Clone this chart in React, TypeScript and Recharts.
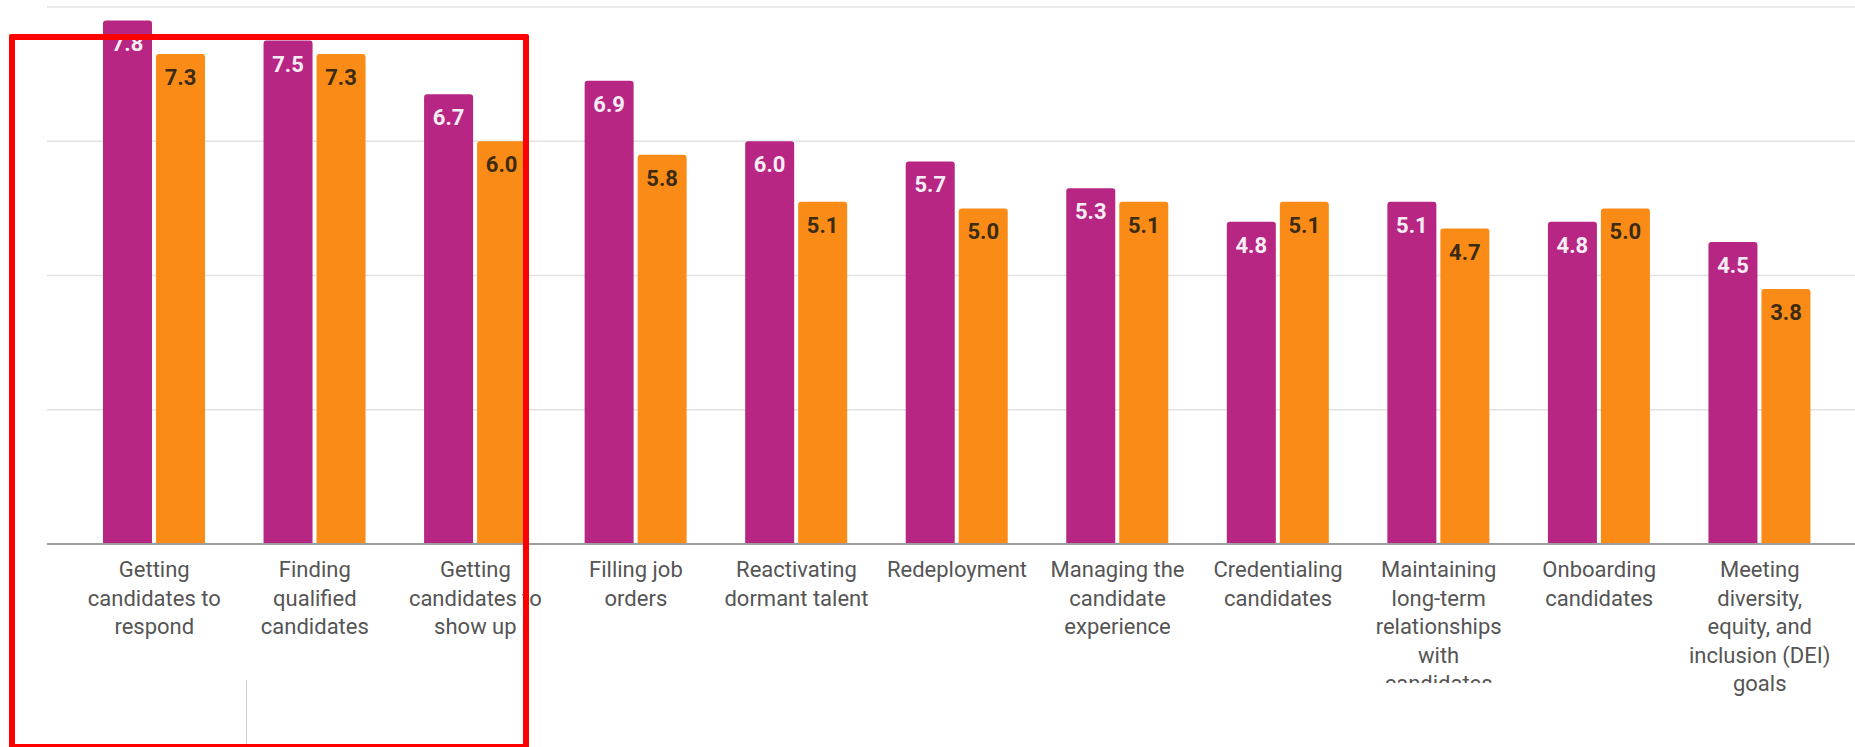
import React from 'react'
import { BarChart, Bar, XAxis, YAxis, CartesianGrid, LabelList } from 'recharts'

const categories = [
	'Getting candidates to respond',
	'Finding qualified candidates',
	'Getting candidates to show up',
	'Filling job orders',
	'Reactivating dormant talent',
	'Redeployment',
	'Managing the candidate experience',
	'Credentialing candidates',
	'Maintaining long-term relationships with candidates',
	'Onboarding candidates',
	'Meeting diversity, equity, and inclusion (DEI) goals',
]

// wrapped tick label lines, as they break in the picture
const tickLines = [
	['Getting', 'candidates to', 'respond'],
	['Finding', 'qualified', 'candidates'],
	['Getting', 'candidates to', 'show up'],
	['Filling job', 'orders'],
	['Reactivating', 'dormant talent'],
	['Redeployment'],
	['Managing the', 'candidate', 'experience'],
	['Credentialing', 'candidates'],
	['Maintaining', 'long-term', 'relationships', 'with', 'candidates'],
	['Onboarding', 'candidates'],
	['Meeting', 'diversity,', 'equity, and', 'inclusion (DEI)', 'goals'],
]

const purpleValues = [7.8, 7.5, 6.7, 6.9, 6.0, 5.7, 5.3, 4.8, 5.1, 4.8, 4.5]
const orangeValues = [7.3, 7.3, 6.0, 5.8, 5.1, 5.0, 5.1, 5.1, 4.7, 5.0, 3.8]

const yTicks = [0, 2, 4, 6, 8]

// labels that get cut off at the bottom in the original
const clippedTicks = ['Maintaining long-term relationships with candidates']

const chartData = categories.map((name, i) => ({
	name,
	purple: purpleValues[i],
	orange: orangeValues[i],
}))

const PURPLE = '#b72683'
const ORANGE = '#fb8b17'

const CategoryTick = (props: any) => {
	const { x, y, payload } = props
	const idx = payload.index
	const lines = tickLines[idx] || [payload.value]
	const clip = clippedTicks.includes(categories[idx])
	const clipId = `tick-clip-${idx}`
	return (
		<g transform={`translate(${x},${y})`}>
			{clip && (
				<defs>
					<clipPath id={clipId}>
						<rect x={-120} y={0} width={240} height={131} />
					</clipPath>
				</defs>
			)}
			<text
				textAnchor='middle'
				fill='#555555'
				fontSize={22}
				fontFamily='Roboto'
				clipPath={clip ? `url(#${clipId})` : undefined}>
				{lines.map((line: string, i: number) => (
					<tspan
						key={i}
						x={0}
						y={25 + i * 28.5}>
						{line}
					</tspan>
				))}
			</text>
		</g>
	)
}

const valueLabel = (color: string) => (props: any) => {
	const { x, y, width, value } = props
	return (
		<text
			x={x + width / 2}
			y={y + 31}
			textAnchor='middle'
			fill={color}
			fontSize={22}
			fontWeight={700}
			fontFamily='Roboto'>
			{Number(value).toFixed(1)}
		</text>
	)
}

const App = () => {
	return (
		<div
			style={{
				position: 'absolute',
				left: 0,
				top: 0,
				width: 1855,
				height: 747,
				background: '#ffffff',
				fontFamily: 'Roboto',
				overflow: 'hidden',
			}}>
			<BarChart
				width={1855}
				height={747}
				data={chartData}
				barSize={49}
				barGap={4}
				margin={{ top: 7, right: 0, left: 47, bottom: 0 }}>
				<CartesianGrid
					vertical={false}
					stroke='#e2e2e2'
					strokeWidth={1.5}
				/>
				<XAxis
					dataKey='name'
					interval={0}
					height={203}
					tickLine={false}
					axisLine={{ stroke: '#9e9e9e', strokeWidth: 2 }}
					padding={{ left: 27, right: 15 }}
					tick={<CategoryTick />}
				/>
				<YAxis
					hide
					domain={[0, 8]}
					ticks={yTicks}
				/>
				<Bar
					dataKey='purple'
					fill={PURPLE}
					radius={[3, 3, 0, 0]}
					isAnimationActive={false}>
					<LabelList
						dataKey='purple'
						content={valueLabel('#f7eef5')}
					/>
				</Bar>
				<Bar
					dataKey='orange'
					fill={ORANGE}
					radius={[3, 3, 0, 0]}
					isAnimationActive={false}>
					<LabelList
						dataKey='orange'
						content={valueLabel('#3a2b12')}
					/>
				</Bar>
			</BarChart>
			{/* thin gray divider at the bottom left */}
			<div
				style={{
					position: 'absolute',
					left: 246,
					top: 680,
					width: 1,
					height: 67,
					background: '#cfcfcf',
				}}
			/>
			{/* red highlight box */}
			<div
				style={{
					position: 'absolute',
					left: 9,
					top: 34,
					width: 508,
					height: 704,
					border: '6px solid #ff0000',
					borderRadius: 2,
					pointerEvents: 'none',
				}}
			/>
		</div>
	)
}

export default App
